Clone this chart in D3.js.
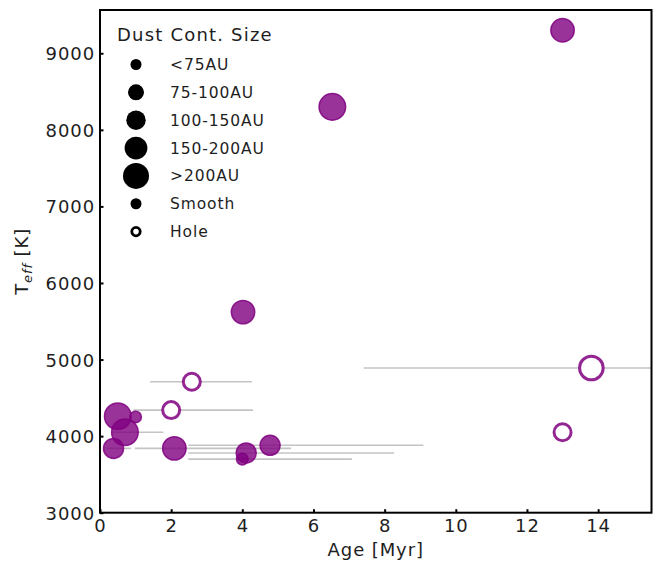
<!DOCTYPE html>
<html>
<head>
<meta charset="utf-8">
<script src="https://cdn.jsdelivr.net/npm/d3@7"></script>
<style>
  body { margin: 0; background: #fff; }
  text { font-family: "DejaVu Sans", sans-serif; fill: #1e1e1e; }
</style>
</head>
<body>
<svg id="chart" width="660" height="563"></svg>
<script>
// values
const ages      = [13.0, 6.53, 4.02, 2.58, 2.0, 13.81, 13.0, 0.5, 1.0, 0.7, 0.38, 2.09, 4.78, 4.11, 4.0];
const teffs     = [9300, 8300, 5620, 4710, 4340, 4890, 4050, 4260, 4250, 4050, 3840, 3840, 3880, 3780, 3700];
const sizeClass = [3, 4, 3, 2, 2, 4, 2, 4, 0, 4, 2, 3, 2, 2, 0];
const structure = ['smooth', 'smooth', 'smooth', 'hole', 'hole', 'hole', 'hole', 'smooth', 'smooth', 'smooth', 'smooth', 'smooth', 'smooth', 'smooth', 'smooth'];
const ageLow    = [null, null, null, 1.41, 0.93, 7.41, null, null, null, 0.35, 0.2, 0.98, 2.48, 2.48, 2.48];
const ageHigh   = [null, null, null, 4.27, 4.3, 17.0, null, null, null, 1.78, 0.87, 5.37, 9.09, 8.27, 7.08];

const sizeLabels = ['<75AU', '75-100AU', '100-150AU', '150-200AU', '>200AU'];
const xTicks = [0, 2, 4, 6, 8, 10, 12, 14];
const yTicks = [3000, 4000, 5000, 6000, 7000, 8000, 9000];

const points = ages.map((a, i) => ({
  age: a, teff: teffs[i], size: sizeClass[i], kind: structure[i], lo: ageLow[i], hi: ageHigh[i]
}));

const svg = d3.select('#chart');
const pLeft = 100, pRight = 651.5, pTop = 10, pBottom = 512.7;

let x = d3.scaleLinear().domain([0, 15.5]).range([pLeft, pRight]);
let y = d3.scaleLinear().domain([3000, 9565]).range([pBottom, pTop]);
let r = d3.scaleOrdinal().domain([0, 1, 2, 3, 4]).range([5.8, 8.3, 10, 11.7, 13.3]);

svg.append('rect').attr('width', 660).attr('height', 563).attr('fill', '#fff');

svg.append('clipPath').attr('id', 'plotclip')
  .append('rect').attr('x', pLeft).attr('y', pTop).attr('width', pRight - pLeft).attr('height', pBottom - pTop);

let plot = svg.append('g').attr('clip-path', 'url(#plotclip)');

// age error bars
plot.selectAll('line.err')
  .data(points.filter(d => d.lo !== null))
  .enter().append('line')
  .attr('class', 'err')
  .attr('x1', d => x(d.lo)).attr('x2', d => x(d.hi))
  .attr('y1', d => y(d.teff)).attr('y2', d => y(d.teff))
  .attr('stroke', '#c4c4c4').attr('stroke-width', 1.6);

// markers
plot.selectAll('circle.pt')
  .data(points)
  .enter().append('circle')
  .attr('class', 'pt')
  .attr('cx', d => x(d.age))
  .attr('cy', d => y(d.teff))
  .attr('r', d => d.kind === 'hole' ? r(d.size) - 1.5 : r(d.size))
  .attr('fill', d => d.kind === 'hole' ? '#fff' : 'purple')
  .attr('fill-opacity', d => d.kind === 'hole' ? 1 : 0.8)
  .attr('stroke', 'purple')
  .attr('stroke-opacity', 0.85)
  .attr('stroke-width', d => d.kind === 'hole' ? 3 : 1.5);

// frame
svg.append('rect')
  .attr('x', pLeft).attr('y', pTop).attr('width', pRight - pLeft).attr('height', pBottom - pTop)
  .attr('fill', 'none').attr('stroke', '#000').attr('stroke-width', 2);

// axes, ticks inward
let xAxis = svg.append('g')
  .attr('transform', 'translate(0,' + pBottom + ')')
  .call(d3.axisBottom(x).tickValues(xTicks).tickFormat(d3.format('d')).tickSize(-3.5).tickPadding(7));
let yAxis = svg.append('g')
  .attr('transform', 'translate(' + pLeft + ',0)')
  .call(d3.axisLeft(y).tickValues(yTicks).tickFormat(d3.format('d')).tickSize(-3.5).tickPadding(6));

[xAxis, yAxis].forEach(g => {
  g.select('.domain').remove();
  g.selectAll('.tick line').attr('stroke', '#000').attr('stroke-width', 2);
  g.selectAll('.tick text').style('font-size', '18px').style('letter-spacing', '0.9px')
    .style('font-family', '"DejaVu Sans", sans-serif').attr('fill', '#1e1e1e');
});
yAxis.selectAll('.tick text').attr('x', -5).attr('dy', '0.36em');

// axis labels
svg.append('text')
  .attr('x', (pLeft + pRight) / 2).attr('y', 556)
  .attr('text-anchor', 'middle')
  .style('font-size', '18px').style('letter-spacing', '0.9px')
  .text('Age [Myr]');

let yl = svg.append('text')
  .attr('transform', 'translate(28,' + ((pTop + pBottom) / 2) + ') rotate(-90)')
  .attr('text-anchor', 'middle')
  .style('font-size', '18px').style('letter-spacing', '0.9px');
yl.append('tspan').text('T');
yl.append('tspan').attr('dy', 4).style('font-size', '13px').style('font-style', 'italic').text('eff');
yl.append('tspan').attr('dy', -4).text(' [K]');

// legend
let legend = svg.append('g');
legend.append('text')
  .attr('x', 117).attr('y', 41)
  .style('font-size', '18px').style('letter-spacing', '1.2px')
  .text('Dust Cont. Size');

let legendRows = sizeLabels.map((s, i) => ({ label: s, size: i, kind: 'smooth' }))
  .concat([{ label: 'Smooth', size: 0, kind: 'smooth' }, { label: 'Hole', size: 0, kind: 'hole' }]);

let rows = legend.selectAll('g.row')
  .data(legendRows)
  .enter().append('g')
  .attr('class', 'row')
  .attr('transform', (d, i) => 'translate(136,' + (64.5 + i * 27.85) + ')');

rows.append('circle')
  .attr('r', d => d.kind === 'hole' ? r(d.size) - 1.6 : r(d.size) - 0.3)
  .attr('fill', d => d.kind === 'hole' ? '#fff' : '#000')
  .attr('stroke', '#000')
  .attr('stroke-width', d => d.kind === 'hole' ? 2.8 : 0);

rows.append('text')
  .attr('x', 34).attr('dy', '0.36em')
  .style('font-size', '15.5px').style('letter-spacing', '0.9px')
  .text(d => d.label);
</script>
</body>
</html>
